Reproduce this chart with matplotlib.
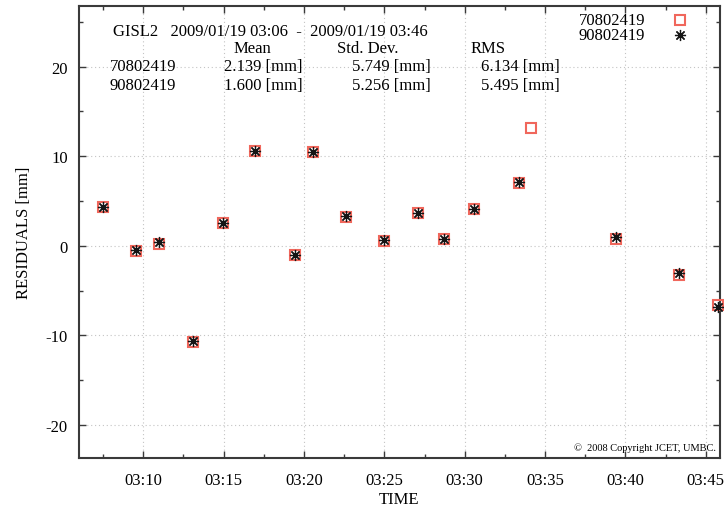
import matplotlib
matplotlib.use("Agg")
import matplotlib.pyplot as plt
from matplotlib.ticker import MultipleLocator, FixedLocator, FixedFormatter

plt.rcParams['font.family'] = ['Liberation Serif', 'DejaVu Serif']
plt.rcParams['axes.unicode_minus'] = False

# ---------------------------------------------------------
# data (minutes after 03:00, residuals in mm)
# ---------------------------------------------------------
sat_a = "70802419"
sat_b = "90802419"

t_a = [7.48, 9.57, 10.96, 13.09, 14.93, 16.96, 19.44, 20.56, 22.64,
       24.96, 27.07, 28.69, 30.60, 33.35, 34.13, 39.38, 43.32, 45.73]
r_a = [4.29, -0.56, 0.25, -10.75, 2.57, 10.55, -1.07, 10.43, 3.24,
       0.54, 3.62, 0.73, 4.07, 7.05, 13.1, 0.8, -3.25, -6.6]

t_b = [7.48, 9.57, 10.96, 13.09, 14.93, 16.96, 19.44, 20.56, 22.64,
       24.96, 27.07, 28.69, 30.60, 33.35, 39.38, 43.32, 45.73]
r_b = [4.35, -0.5, 0.4, -10.6, 2.6, 10.6, -1.05, 10.5, 3.3,
       0.6, 3.65, 0.8, 4.1, 7.1, 1.0, -3.0, -6.85]

stat_means = [2.139, 1.600]
stat_stds = [5.749, 5.256]
stat_rms = [6.134, 5.495]

tick_pos = [10, 15, 20, 25, 30, 35, 40, 45]
tick_labels = ["03:10", "03:15", "03:20", "03:25", "03:30", "03:35", "03:40", "03:45"]

header = "GISL2   2009/01/19 03:06  -  2009/01/19 03:46"

# ---------------------------------------------------------
# figure
# ---------------------------------------------------------
W, H = 724, 510
fig = plt.figure(figsize=(W / 100, H / 100), dpi=100)
ax = fig.add_axes([79 / W, 1 - 459.3 / H, (719.5 - 79) / W, (459.3 - 7) / H])

def fx(px):
    return px / W

def fy(py):
    return 1 - py / H

red = "#f0675c"
ax.plot(t_a, r_a, linestyle="none", marker="s", ms=7, mfc="none",
        mec=red, mew=1.5, clip_on=False, zorder=3)
ax.plot(t_b, r_b, linestyle="none", marker=(8, 2, 0), ms=8,
        color="#151515", mew=0.9, clip_on=False, zorder=4)

ax.set_xlim(6.0, 45.85)
ax.set_ylim(-23.7, 26.75)

ax.xaxis.set_major_locator(FixedLocator(tick_pos))
ax.xaxis.set_major_formatter(FixedFormatter(tick_labels))
ax.xaxis.set_minor_locator(MultipleLocator(2.5))
ax.yaxis.set_major_locator(MultipleLocator(10))
ax.yaxis.set_minor_locator(MultipleLocator(5))

spine_col = "#3a3a3a"
for s in ax.spines.values():
    s.set_color(spine_col)
    s.set_linewidth(1.5)

ax.tick_params(which="both", direction="in", top=True, right=True,
               color=spine_col, labelsize=12)
ax.tick_params(which="major", length=5, width=1.0)
ax.tick_params(which="minor", length=3, width=1.0)
ax.tick_params(axis="x", which="major", pad=10)
ax.tick_params(axis="y", which="major", pad=8)

ax.grid(True, which="major", linestyle=(0, (1, 2.5)), color="#c4c4c4", linewidth=0.8)
ax.set_axisbelow(True)

ax.set_xlabel("TIME", fontsize=12, labelpad=2)
ax.set_ylabel("RESIDUALS [mm]", fontsize=12, labelpad=10)

# ---------------------------------------------------------
# header block
# ---------------------------------------------------------
fs = 12
fig.text(fx(113), fy(32), header, fontsize=fs, va="center", ha="left")
fig.text(fx(252), fy(49), "Mean", fontsize=fs, va="center", ha="center")
fig.text(fx(337), fy(49), "Std. Dev.", fontsize=fs, va="center", ha="left")
fig.text(fx(471), fy(49), "RMS", fontsize=fs, va="center", ha="left")

for i, (name, yy) in enumerate([(sat_a, 67), (sat_b, 86)]):
    fig.text(fx(110), fy(yy), name, fontsize=fs, va="center", ha="left")
    fig.text(fx(303), fy(yy), f"{stat_means[i]:.3f} [mm]", fontsize=fs, va="center", ha="right")
    fig.text(fx(431), fy(yy), f"{stat_stds[i]:.3f} [mm]", fontsize=fs, va="center", ha="right")
    fig.text(fx(560), fy(yy), f"{stat_rms[i]:.3f} [mm]", fontsize=fs, va="center", ha="right")

# ---------------------------------------------------------
# key (upper right)
# ---------------------------------------------------------
key_rows = [21, 36]
fig.text(fx(645), fy(key_rows[0]), sat_a, fontsize=fs, va="center", ha="right")
fig.text(fx(645), fy(key_rows[1]), sat_b, fontsize=fs, va="center", ha="right")
fig.lines.append(plt.Line2D([fx(680)], [fy(key_rows[0])], transform=fig.transFigure,
                            marker="s", ms=7, mfc="none", mec=red, mew=1.5))
fig.lines.append(plt.Line2D([fx(680)], [fy(key_rows[1])], transform=fig.transFigure,
                            marker=(8, 2, 0), ms=8, color="#151515", mew=0.9))

fig.text(fx(716), fy(448), "\u00a9  2008 Copyright JCET, UMBC.", fontsize=7.5,
         va="center", ha="right")

fig.savefig("out.png", dpi=100)
plt.close(fig)
